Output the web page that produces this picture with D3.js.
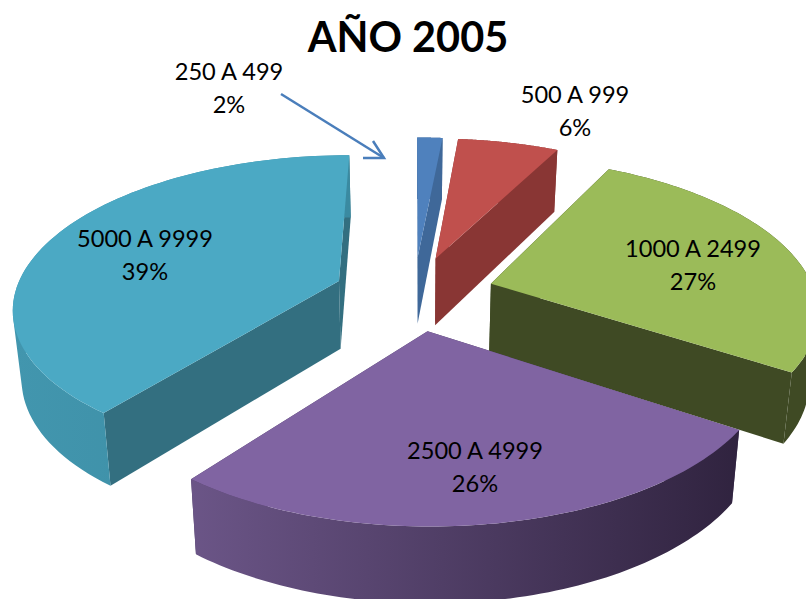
<!DOCTYPE html>
<html><head><meta charset="utf-8">
<script src="https://cdn.jsdelivr.net/npm/d3@7/dist/d3.min.js"></script>
<style>html,body{margin:0;padding:0;background:#fff;overflow:hidden}svg{display:block}text{font-family:Lato,"Open Sans",sans-serif;fill:#000}</style>
</head><body><svg id="c" width="806" height="599"></svg>
<script>
const title = "AÑO 2005";
const categories = ["250 A 499","500 A 999","1000 A 2499","2500 A 4999","5000 A 9999"];
const values = [1.5,6.0,26.8,26.2,39.49];
const faceColors = ["#4f81bd","#c0504d","#9bbb59","#8064a2","#4ba9c4"];
const cutColors = ["#3f6899","#893634","#3f4a24","#4a3a60","#336f80"];
const rimLeft = ["#3f6899","#893634","#3f4a24","#6b5587","#4296ae"];
const rimRight = ["#3f6899","#893634","#3f4a24","#30233f","#3a8aa1"];
const labelX = [229,575,693,475,145];
const labelY = [71,94,248,450,238];
const drawOrder = [0,1,4,2,3];

const W=806,H=599,Cx=414,Cy=293,R=324,A=149.8,D=6.18,E=0.248,T=68,K=0.022;
const svg=d3.select("#c");
const defs=svg.append("defs");
const arcs=d3.pie().sort(null).value(d=>d)(values);
// ground-plane projection with simple perspective
function project(gx,gy,down){
  const s=D/(D+gy), x=gx*R*s;
  return [Cx+x*(down?1-K:1), Cy-gy*A*s+(down?T*Math.pow(s,0.55):0)];
}
function pt(a,r,mid,down){return project(Math.sin(a)*r+Math.sin(mid)*E, Math.cos(a)*r+Math.cos(mid)*E, down);}
const line=d3.line();
arcs.forEach((d,i)=>{
  const g=defs.append("linearGradient").attr("id","rim"+i).attr("gradientUnits","userSpaceOnUse");
  const mid=(d.startAngle+d.endAngle)/2;
  const xs=d3.range(0,41).map(k=>pt(d.startAngle+(d.endAngle-d.startAngle)*k/40,1,mid,false)[0]);
  g.attr("x1",d3.min(xs)).attr("x2",d3.max(xs)).attr("y1",0).attr("y2",0);
  g.append("stop").attr("offset",0).attr("stop-color",rimLeft[i]);
  g.append("stop").attr("offset",1).attr("stop-color",rimRight[i]);
});
const layer=svg.append("g");
drawOrder.forEach(i=>{
  const d=arcs[i],mid=(d.startAngle+d.endAngle)/2;
  const as=d3.range(0,81).map(k=>d.startAngle+(d.endAngle-d.startAngle)*k/80);
  const top=as.map(a=>pt(a,1,mid,false));
  const bot=as.map(a=>pt(a,1,mid,true));
  const c0=pt(0,0,mid,false),c1=pt(0,0,mid,true);
  const g=layer.append("g");
  // cut walls
  [[top[0],bot[0]],[top[80],bot[80]]].forEach(e=>{
    g.append("path").attr("d",line([c0,e[0],e[1],c1])+"Z").attr("fill",cutColors[i]);
  });
  // outer wall: one path of step quads so the silhouette stays a straight side without seams
  const rimPath=d3.range(80).map(k=>{
    const q=[top[k],top[k+1],bot[k+1],bot[k]];
    const area=d3.polygonArea(q);
    return line(area<0?q.slice().reverse():q)+"Z";
  }).join("");
  g.append("path").attr("d",rimPath).attr("fill",`url(#rim${i})`);
  // top face
  g.append("path").attr("d",line([c0].concat(top))+"Z").attr("fill",faceColors[i]);
});
// labels
categories.forEach((c,i)=>{
  const t=svg.append("g").attr("font-size",23.6).attr("text-anchor","middle");
  t.append("text").attr("x",labelX[i]).attr("y",labelY[i]+9).text(c);
  t.append("text").attr("x",labelX[i]).attr("y",labelY[i]+42).text(Math.round(values[i])+"%");
});
svg.append("text").attr("x",408).attr("y",52).attr("text-anchor","middle").attr("font-size",41.5).attr("font-weight",700).text(title);
// leader arrow
svg.append("path").attr("d",line([[281,94],[384,158]])).attr("stroke","#4a7ebb").attr("stroke-width",2.5).attr("fill","none");
svg.append("path").attr("d",line([[363,158],[384,158],[373,141]])).attr("stroke","#4a7ebb").attr("stroke-width",2.5).attr("fill","none");
</script></body></html>
